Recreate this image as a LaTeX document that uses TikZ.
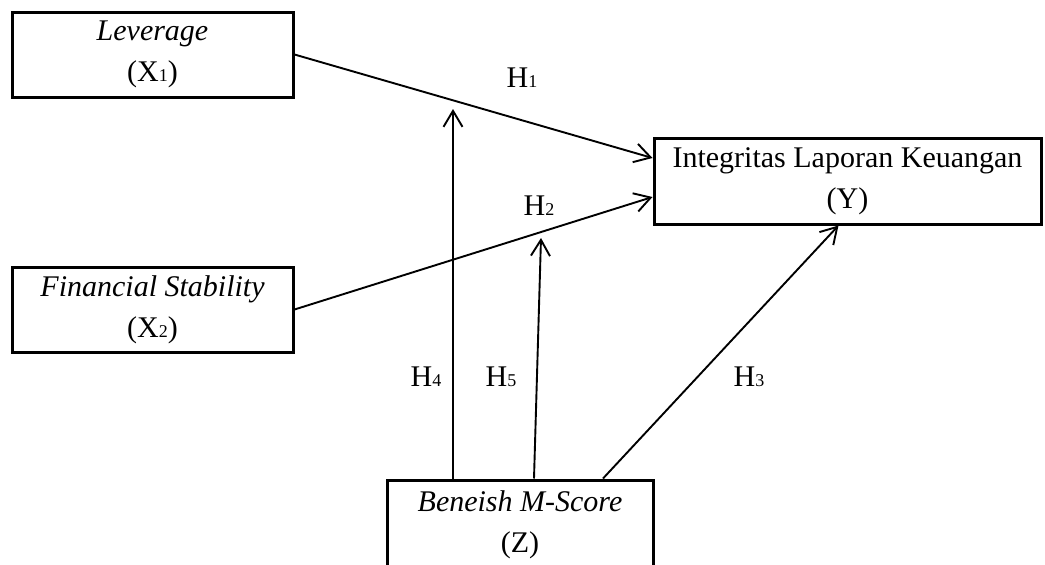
\documentclass[tikz,border=0pt]{standalone}
\usepackage{fontspec}
\setmainfont{Liberation Serif}
\usetikzlibrary{arrows.meta}
\newcommand{\nr}[1]{{\fontsize{18}{20}\selectfont #1}}

\begin{document}
\begin{tikzpicture}
    %[x=1pt,y=-1pt,->,>=stealth']
    [x=1pt,y=-1pt,line width=1.9pt,
     >={Straight Barb[length=16pt,width=19pt,line width=1.9pt]},
     box/.style={draw,line width=3pt,align=center,inner sep=0pt,font=\fontsize{30}{41}\selectfont},
     hyp/.style={anchor=base,font=\fontsize{30}{36}\selectfont}]
    \useasboundingbox (0,0) rectangle (1045,565);
    \clip (0,0) rectangle (1045,565);
    \node[box,minimum width=281pt,minimum height=85pt] (nx1) at (152.5,54.5) {\textit{Leverage}\\(X\nr{1})};
    \node[box,minimum width=281pt,minimum height=85pt] (nx2) at (152.5,309.5) {\textit{Financial Stability}\\(X\nr{2})};
    \node[box,minimum width=387pt,minimum height=86pt] (ny) at (847.5,181) {Integritas Laporan Keuangan\\(Y)};
    \node[box,minimum width=266pt,minimum height=90pt] (nz) at (520,525) {\textit{Beneish M-Score}\\(Z)};

    \coordinate (c4) at (453,109);
    \coordinate (c5) at (541,238);

    \path[->] (nx1.east) edge ([yshift=23pt]ny.west);
    \path[->] (nx2.east) edge ([yshift=-16pt]ny.west);
    \path[->] ([xshift=83pt]nz.north) edge ([xshift=-9pt]ny.south);
    \path[->] ([xshift=-67pt]nz.north) edge (c4);
    \path[->] ([xshift=14pt]nz.north) edge (c5);

    \node[hyp] (h1) at (522,87) {H\nr{1}};
    \node[hyp] (h2) at (539,215) {H\nr{2}};
    \node[hyp] (h3) at (749,386) {H\nr{3}};
    \node[hyp] (h4) at (426,386) {H\nr{4}};
    \node[hyp] (h5) at (501,386) {H\nr{5}};

  \end{tikzpicture}
\end{document}
